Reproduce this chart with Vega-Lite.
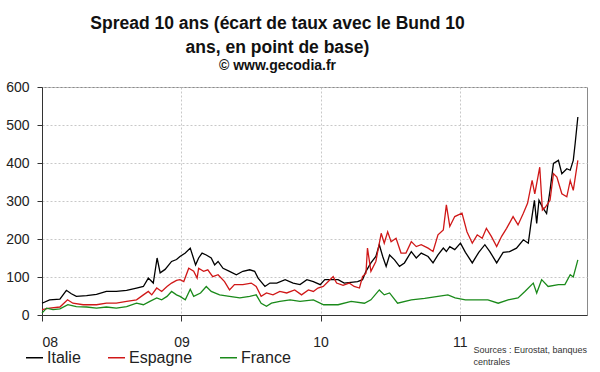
{
  "$schema": "https://vega.github.io/schema/vega-lite/v6.json",
  "width": 545,
  "height": 228,
  "autosize": {"type": "none"},
  "padding": {"left": 42, "top": 87, "right": 13, "bottom": 57},
  "background": "white",
  "config": {
    "font": "Liberation Sans",
    "view": {"stroke": "#8a8a8a", "strokeWidth": 1}
  },
  "title": {
    "text": ["Spread 10 ans (écart de taux avec le Bund 10", "ans, en point de base)"],
    "subtitle": "© www.gecodia.fr",
    "anchor": "middle",
    "dx": -37,
    "fontSize": 17.5,
    "fontWeight": "bold",
    "color": "#111",
    "lineHeight": 24,
    "subtitleFontSize": 14,
    "subtitleFontWeight": "bold",
    "subtitleColor": "#111",
    "subtitlePadding": 3,
    "offset": 7
  },
  "data": {
    "values": [
      {"d": "2008-01-01", "s": "Italie", "v": 31},
      {"d": "2008-01-21", "s": "Italie", "v": 40},
      {"d": "2008-02-17", "s": "Italie", "v": 42},
      {"d": "2008-03-05", "s": "Italie", "v": 65},
      {"d": "2008-03-18", "s": "Italie", "v": 56},
      {"d": "2008-03-31", "s": "Italie", "v": 49},
      {"d": "2008-04-27", "s": "Italie", "v": 51},
      {"d": "2008-05-23", "s": "Italie", "v": 54},
      {"d": "2008-06-18", "s": "Italie", "v": 62},
      {"d": "2008-07-14", "s": "Italie", "v": 62},
      {"d": "2008-08-10", "s": "Italie", "v": 65},
      {"d": "2008-09-05", "s": "Italie", "v": 71},
      {"d": "2008-09-23", "s": "Italie", "v": 75},
      {"d": "2008-10-06", "s": "Italie", "v": 97},
      {"d": "2008-10-19", "s": "Italie", "v": 84},
      {"d": "2008-10-29", "s": "Italie", "v": 150},
      {"d": "2008-11-06", "s": "Italie", "v": 111},
      {"d": "2008-11-19", "s": "Italie", "v": 120},
      {"d": "2008-12-06", "s": "Italie", "v": 141},
      {"d": "2008-12-19", "s": "Italie", "v": 146},
      {"d": "2008-12-28", "s": "Italie", "v": 154},
      {"d": "2009-01-11", "s": "Italie", "v": 163},
      {"d": "2009-01-24", "s": "Italie", "v": 176},
      {"d": "2009-02-07", "s": "Italie", "v": 132},
      {"d": "2009-02-15", "s": "Italie", "v": 150},
      {"d": "2009-02-24", "s": "Italie", "v": 163},
      {"d": "2009-03-07", "s": "Italie", "v": 158},
      {"d": "2009-03-20", "s": "Italie", "v": 150},
      {"d": "2009-03-29", "s": "Italie", "v": 132},
      {"d": "2009-04-07", "s": "Italie", "v": 141},
      {"d": "2009-04-20", "s": "Italie", "v": 123},
      {"d": "2009-05-07", "s": "Italie", "v": 115},
      {"d": "2009-05-25", "s": "Italie", "v": 106},
      {"d": "2009-06-11", "s": "Italie", "v": 115},
      {"d": "2009-06-29", "s": "Italie", "v": 119},
      {"d": "2009-07-12", "s": "Italie", "v": 115},
      {"d": "2009-07-21", "s": "Italie", "v": 97},
      {"d": "2009-08-08", "s": "Italie", "v": 75},
      {"d": "2009-08-21", "s": "Italie", "v": 84},
      {"d": "2009-09-08", "s": "Italie", "v": 84},
      {"d": "2009-09-30", "s": "Italie", "v": 93},
      {"d": "2009-10-21", "s": "Italie", "v": 84},
      {"d": "2009-11-08", "s": "Italie", "v": 80},
      {"d": "2009-11-26", "s": "Italie", "v": 93},
      {"d": "2009-12-13", "s": "Italie", "v": 88},
      {"d": "2009-12-31", "s": "Italie", "v": 80},
      {"d": "2010-01-12", "s": "Italie", "v": 93},
      {"d": "2010-02-16", "s": "Italie", "v": 93},
      {"d": "2010-03-04", "s": "Italie", "v": 84},
      {"d": "2010-04-08", "s": "Italie", "v": 88},
      {"d": "2010-04-21", "s": "Italie", "v": 93},
      {"d": "2010-04-30", "s": "Italie", "v": 115},
      {"d": "2010-05-13", "s": "Italie", "v": 137},
      {"d": "2010-05-26", "s": "Italie", "v": 154},
      {"d": "2010-06-04", "s": "Italie", "v": 185},
      {"d": "2010-06-13", "s": "Italie", "v": 154},
      {"d": "2010-06-22", "s": "Italie", "v": 128},
      {"d": "2010-07-01", "s": "Italie", "v": 158},
      {"d": "2010-07-14", "s": "Italie", "v": 145},
      {"d": "2010-07-27", "s": "Italie", "v": 128},
      {"d": "2010-08-09", "s": "Italie", "v": 137},
      {"d": "2010-08-27", "s": "Italie", "v": 167},
      {"d": "2010-09-09", "s": "Italie", "v": 150},
      {"d": "2010-09-22", "s": "Italie", "v": 163},
      {"d": "2010-10-10", "s": "Italie", "v": 154},
      {"d": "2010-10-23", "s": "Italie", "v": 137},
      {"d": "2010-11-05", "s": "Italie", "v": 158},
      {"d": "2010-11-19", "s": "Italie", "v": 176},
      {"d": "2010-11-27", "s": "Italie", "v": 167},
      {"d": "2010-12-06", "s": "Italie", "v": 180},
      {"d": "2010-12-19", "s": "Italie", "v": 172},
      {"d": "2011-01-03", "s": "Italie", "v": 189},
      {"d": "2011-01-16", "s": "Italie", "v": 165},
      {"d": "2011-02-03", "s": "Italie", "v": 137},
      {"d": "2011-02-20", "s": "Italie", "v": 165},
      {"d": "2011-03-08", "s": "Italie", "v": 185},
      {"d": "2011-03-21", "s": "Italie", "v": 167},
      {"d": "2011-04-08", "s": "Italie", "v": 137},
      {"d": "2011-04-25", "s": "Italie", "v": 165},
      {"d": "2011-05-12", "s": "Italie", "v": 167},
      {"d": "2011-05-30", "s": "Italie", "v": 176},
      {"d": "2011-06-17", "s": "Italie", "v": 198},
      {"d": "2011-06-30", "s": "Italie", "v": 189},
      {"d": "2011-07-07", "s": "Italie", "v": 241},
      {"d": "2011-07-16", "s": "Italie", "v": 302},
      {"d": "2011-07-22", "s": "Italie", "v": 241},
      {"d": "2011-07-28", "s": "Italie", "v": 302},
      {"d": "2011-08-06", "s": "Italie", "v": 284},
      {"d": "2011-08-17", "s": "Italie", "v": 267},
      {"d": "2011-08-26", "s": "Italie", "v": 328},
      {"d": "2011-09-04", "s": "Italie", "v": 399},
      {"d": "2011-09-17", "s": "Italie", "v": 407},
      {"d": "2011-09-26", "s": "Italie", "v": 372},
      {"d": "2011-10-09", "s": "Italie", "v": 385},
      {"d": "2011-10-18", "s": "Italie", "v": 381},
      {"d": "2011-10-26", "s": "Italie", "v": 407},
      {"d": "2011-10-31", "s": "Italie", "v": 452},
      {"d": "2011-11-07", "s": "Italie", "v": 521},
      {"d": "2008-01-01", "s": "Espagne", "v": 14},
      {"d": "2008-01-21", "s": "Espagne", "v": 18},
      {"d": "2008-02-17", "s": "Espagne", "v": 21},
      {"d": "2008-03-08", "s": "Espagne", "v": 40},
      {"d": "2008-03-22", "s": "Espagne", "v": 31},
      {"d": "2008-04-18", "s": "Espagne", "v": 27},
      {"d": "2008-05-23", "s": "Espagne", "v": 27},
      {"d": "2008-06-18", "s": "Espagne", "v": 31},
      {"d": "2008-07-14", "s": "Espagne", "v": 31},
      {"d": "2008-08-10", "s": "Espagne", "v": 36},
      {"d": "2008-09-05", "s": "Espagne", "v": 40},
      {"d": "2008-09-23", "s": "Espagne", "v": 53},
      {"d": "2008-10-06", "s": "Espagne", "v": 62},
      {"d": "2008-10-15", "s": "Espagne", "v": 53},
      {"d": "2008-10-28", "s": "Espagne", "v": 71},
      {"d": "2008-11-10", "s": "Espagne", "v": 62},
      {"d": "2008-11-24", "s": "Espagne", "v": 75},
      {"d": "2008-12-06", "s": "Espagne", "v": 84},
      {"d": "2008-12-19", "s": "Espagne", "v": 91},
      {"d": "2008-12-28", "s": "Espagne", "v": 93},
      {"d": "2009-01-07", "s": "Espagne", "v": 88},
      {"d": "2009-01-20", "s": "Espagne", "v": 123},
      {"d": "2009-02-02", "s": "Espagne", "v": 115},
      {"d": "2009-02-11", "s": "Espagne", "v": 97},
      {"d": "2009-02-15", "s": "Espagne", "v": 123},
      {"d": "2009-02-28", "s": "Espagne", "v": 115},
      {"d": "2009-03-11", "s": "Espagne", "v": 119},
      {"d": "2009-03-24", "s": "Espagne", "v": 101},
      {"d": "2009-04-07", "s": "Espagne", "v": 106},
      {"d": "2009-04-24", "s": "Espagne", "v": 88},
      {"d": "2009-05-07", "s": "Espagne", "v": 66},
      {"d": "2009-05-20", "s": "Espagne", "v": 80},
      {"d": "2009-06-11", "s": "Espagne", "v": 80},
      {"d": "2009-07-03", "s": "Espagne", "v": 84},
      {"d": "2009-07-16", "s": "Espagne", "v": 75},
      {"d": "2009-07-29", "s": "Espagne", "v": 49},
      {"d": "2009-08-12", "s": "Espagne", "v": 58},
      {"d": "2009-08-29", "s": "Espagne", "v": 53},
      {"d": "2009-09-16", "s": "Espagne", "v": 62},
      {"d": "2009-10-04", "s": "Espagne", "v": 58},
      {"d": "2009-10-25", "s": "Espagne", "v": 66},
      {"d": "2009-11-12", "s": "Espagne", "v": 53},
      {"d": "2009-11-30", "s": "Espagne", "v": 66},
      {"d": "2009-12-13", "s": "Espagne", "v": 62},
      {"d": "2009-12-25", "s": "Espagne", "v": 71},
      {"d": "2010-01-08", "s": "Espagne", "v": 75},
      {"d": "2010-01-21", "s": "Espagne", "v": 88},
      {"d": "2010-02-03", "s": "Espagne", "v": 101},
      {"d": "2010-02-12", "s": "Espagne", "v": 84},
      {"d": "2010-03-01", "s": "Espagne", "v": 78},
      {"d": "2010-03-17", "s": "Espagne", "v": 84},
      {"d": "2010-03-30", "s": "Espagne", "v": 75},
      {"d": "2010-04-13", "s": "Espagne", "v": 71},
      {"d": "2010-04-21", "s": "Espagne", "v": 101},
      {"d": "2010-04-30", "s": "Espagne", "v": 110},
      {"d": "2010-05-04", "s": "Espagne", "v": 176},
      {"d": "2010-05-13", "s": "Espagne", "v": 115},
      {"d": "2010-05-26", "s": "Espagne", "v": 141},
      {"d": "2010-06-09", "s": "Espagne", "v": 215},
      {"d": "2010-06-17", "s": "Espagne", "v": 189},
      {"d": "2010-06-26", "s": "Espagne", "v": 219},
      {"d": "2010-07-05", "s": "Espagne", "v": 193},
      {"d": "2010-07-18", "s": "Espagne", "v": 202},
      {"d": "2010-07-31", "s": "Espagne", "v": 163},
      {"d": "2010-08-13", "s": "Espagne", "v": 163},
      {"d": "2010-08-27", "s": "Espagne", "v": 193},
      {"d": "2010-09-09", "s": "Espagne", "v": 180},
      {"d": "2010-09-22", "s": "Espagne", "v": 185},
      {"d": "2010-10-10", "s": "Espagne", "v": 176},
      {"d": "2010-10-23", "s": "Espagne", "v": 167},
      {"d": "2010-11-05", "s": "Espagne", "v": 211},
      {"d": "2010-11-19", "s": "Espagne", "v": 224},
      {"d": "2010-11-27", "s": "Espagne", "v": 290},
      {"d": "2010-12-06", "s": "Espagne", "v": 233},
      {"d": "2010-12-19", "s": "Espagne", "v": 259},
      {"d": "2011-01-07", "s": "Espagne", "v": 268},
      {"d": "2011-01-20", "s": "Espagne", "v": 219},
      {"d": "2011-02-03", "s": "Espagne", "v": 189},
      {"d": "2011-02-16", "s": "Espagne", "v": 211},
      {"d": "2011-03-01", "s": "Espagne", "v": 202},
      {"d": "2011-03-12", "s": "Espagne", "v": 228},
      {"d": "2011-03-25", "s": "Espagne", "v": 207},
      {"d": "2011-04-08", "s": "Espagne", "v": 180},
      {"d": "2011-04-21", "s": "Espagne", "v": 207},
      {"d": "2011-05-04", "s": "Espagne", "v": 228},
      {"d": "2011-05-21", "s": "Espagne", "v": 259},
      {"d": "2011-06-03", "s": "Espagne", "v": 237},
      {"d": "2011-06-17", "s": "Espagne", "v": 268},
      {"d": "2011-06-28", "s": "Espagne", "v": 294},
      {"d": "2011-07-10", "s": "Espagne", "v": 354},
      {"d": "2011-07-17", "s": "Espagne", "v": 319},
      {"d": "2011-07-30", "s": "Espagne", "v": 389},
      {"d": "2011-08-06", "s": "Espagne", "v": 276},
      {"d": "2011-08-14", "s": "Espagne", "v": 284},
      {"d": "2011-08-26", "s": "Espagne", "v": 302},
      {"d": "2011-09-04", "s": "Espagne", "v": 372},
      {"d": "2011-09-13", "s": "Espagne", "v": 363},
      {"d": "2011-09-26", "s": "Espagne", "v": 319},
      {"d": "2011-10-09", "s": "Espagne", "v": 311},
      {"d": "2011-10-18", "s": "Espagne", "v": 354},
      {"d": "2011-10-26", "s": "Espagne", "v": 328},
      {"d": "2011-11-07", "s": "Espagne", "v": 407},
      {"d": "2008-01-01", "s": "France", "v": 5},
      {"d": "2008-01-13", "s": "France", "v": 18},
      {"d": "2008-01-30", "s": "France", "v": 14},
      {"d": "2008-02-17", "s": "France", "v": 16},
      {"d": "2008-03-09", "s": "France", "v": 27},
      {"d": "2008-03-31", "s": "France", "v": 22},
      {"d": "2008-04-27", "s": "France", "v": 21},
      {"d": "2008-05-23", "s": "France", "v": 18},
      {"d": "2008-06-18", "s": "France", "v": 21},
      {"d": "2008-07-14", "s": "France", "v": 18},
      {"d": "2008-08-10", "s": "France", "v": 22},
      {"d": "2008-09-05", "s": "France", "v": 31},
      {"d": "2008-09-23", "s": "France", "v": 27},
      {"d": "2008-10-10", "s": "France", "v": 36},
      {"d": "2008-10-28", "s": "France", "v": 45},
      {"d": "2008-11-10", "s": "France", "v": 40},
      {"d": "2008-11-24", "s": "France", "v": 49},
      {"d": "2008-12-06", "s": "France", "v": 62},
      {"d": "2008-12-19", "s": "France", "v": 53},
      {"d": "2008-12-28", "s": "France", "v": 49},
      {"d": "2009-01-11", "s": "France", "v": 40},
      {"d": "2009-01-24", "s": "France", "v": 68},
      {"d": "2009-02-02", "s": "France", "v": 49},
      {"d": "2009-02-20", "s": "France", "v": 58},
      {"d": "2009-03-07", "s": "France", "v": 75},
      {"d": "2009-03-20", "s": "France", "v": 62},
      {"d": "2009-04-11", "s": "France", "v": 53},
      {"d": "2009-05-07", "s": "France", "v": 49},
      {"d": "2009-06-03", "s": "France", "v": 45},
      {"d": "2009-06-29", "s": "France", "v": 49},
      {"d": "2009-07-16", "s": "France", "v": 53},
      {"d": "2009-07-29", "s": "France", "v": 31},
      {"d": "2009-08-12", "s": "France", "v": 23},
      {"d": "2009-08-25", "s": "France", "v": 31},
      {"d": "2009-09-16", "s": "France", "v": 36},
      {"d": "2009-10-13", "s": "France", "v": 40},
      {"d": "2009-11-08", "s": "France", "v": 36},
      {"d": "2009-12-13", "s": "France", "v": 40},
      {"d": "2010-01-09", "s": "France", "v": 27},
      {"d": "2010-02-16", "s": "France", "v": 27},
      {"d": "2010-03-22", "s": "France", "v": 36},
      {"d": "2010-04-26", "s": "France", "v": 31},
      {"d": "2010-05-13", "s": "France", "v": 40},
      {"d": "2010-06-04", "s": "France", "v": 66},
      {"d": "2010-06-17", "s": "France", "v": 53},
      {"d": "2010-07-01", "s": "France", "v": 58},
      {"d": "2010-07-22", "s": "France", "v": 31},
      {"d": "2010-08-27", "s": "France", "v": 40},
      {"d": "2010-10-01", "s": "France", "v": 44},
      {"d": "2010-11-05", "s": "France", "v": 49},
      {"d": "2010-12-01", "s": "France", "v": 53},
      {"d": "2010-12-20", "s": "France", "v": 45},
      {"d": "2011-01-16", "s": "France", "v": 40},
      {"d": "2011-02-20", "s": "France", "v": 40},
      {"d": "2011-03-16", "s": "France", "v": 40},
      {"d": "2011-04-12", "s": "France", "v": 31},
      {"d": "2011-05-08", "s": "France", "v": 40},
      {"d": "2011-06-03", "s": "France", "v": 45},
      {"d": "2011-06-21", "s": "France", "v": 62},
      {"d": "2011-07-13", "s": "France", "v": 84},
      {"d": "2011-07-22", "s": "France", "v": 58},
      {"d": "2011-08-04", "s": "France", "v": 93},
      {"d": "2011-08-21", "s": "France", "v": 75},
      {"d": "2011-09-17", "s": "France", "v": 80},
      {"d": "2011-10-04", "s": "France", "v": 80},
      {"d": "2011-10-18", "s": "France", "v": 106},
      {"d": "2011-10-26", "s": "France", "v": 100},
      {"d": "2011-11-07", "s": "France", "v": 145}
    ]
  },
  "mark": {"type": "line", "strokeWidth": 1.3, "interpolate": "linear"},
  "encoding": {
    "x": {
      "field": "d",
      "type": "temporal",
      "scale": {"domain": ["2008-01-01", "2011-12-01"]},
      "axis": {
        "format": "%y",
        "tickCount": {"interval": "year", "step": 1},
        "labelFontSize": 14,
        "labelColor": "#222",
        "labelPadding": 14,
        "tickSize": 6,
        "tickColor": "#333",
        "domainColor": "#333",
        "grid": true,
        "gridColor": "#c8c8c8",
        "gridDash": [2, 2],
        "title": ["Sources : Eurostat, banques", "centrales"],
        "titleFontSize": 9,
        "titleFontWeight": "normal",
        "titleColor": "#333",
        "titleAnchor": "start",
        "titleAlign": "left",
        "titleBaseline": "top",
        "titleX": 431,
        "titleY": 30,
        "titleLineHeight": 12
      }
    },
    "y": {
      "field": "v",
      "type": "quantitative",
      "scale": {"domain": [0, 600], "nice": false},
      "axis": {
        "values": [0, 100, 200, 300, 400, 500, 600],
        "labelFontSize": 14,
        "labelColor": "#222",
        "labelPadding": 8,
        "tickSize": 5,
        "tickColor": "#333",
        "domainColor": "#333",
        "grid": true,
        "gridColor": "#c8c8c8",
        "gridDash": [2, 2],
        "title": null
      }
    },
    "color": {
      "field": "s",
      "type": "nominal",
      "scale": {"domain": ["Italie", "Espagne", "France"], "range": ["#000000", "#d01818", "#1a8a1a"]},
      "legend": {
        "title": null,
        "orient": "none",
        "direction": "horizontal",
        "legendX": -17,
        "legendY": 261,
        "symbolType": "stroke",
        "symbolSize": 289,
        "symbolStrokeWidth": 1.5,
        "labelFontSize": 16,
        "labelColor": "#222",
        "labelOffset": 3,
        "columnPadding": 24
      }
    }
  }
}
